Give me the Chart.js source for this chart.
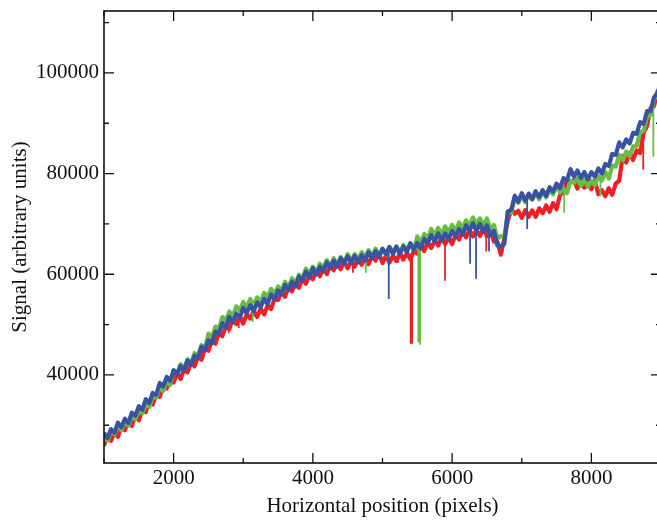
<!DOCTYPE html>
<html>
<head>
<meta charset="utf-8">
<script src="https://cdn.jsdelivr.net/npm/chart.js@4.4.1/dist/chart.umd.min.js"></script>
<style>
  html, body { margin: 0; padding: 0; background: #fff; overflow: hidden; }
  #wrap { width: 657px; height: 520px; overflow: hidden; }
</style>
</head>
<body>
<div id="wrap"><canvas id="c" width="664" height="520"></canvas></div>
<script>
const positions = [1000,1050,1100,1150,1200,1250,1300,1350,1400,1450,1500,1550,1600,1650,1700,1750,1800,1850,1900,1950,
2000,2050,2100,2150,2200,2250,2300,2350,2400,2450,2500,2550,2600,2650,2700,2750,2800,2850,2900,2950,
3000,3050,3100,3150,3200,3250,3300,3350,3400,3450,3500,3550,3600,3650,3700,3750,3800,3850,3900,3950,
4000,4050,4100,4150,4200,4250,4300,4350,4400,4450,4500,4550,4600,4650,4700,4750,4800,4850,4900,4950,
5000,5050,5100,5150,5200,5250,5300,5350,5400,5450,5500,5550,5600,5650,5700,5750,5800,5850,5900,5950,
6000,6050,6100,6150,6200,6250,6300,6350,6400,6450,6500,6550,6600,6650,6700,6750,6800,6850,6900,6950,
7000,7050,7100,7150,7200,7250,7300,7350,7400,7450,7500,7550,7600,7650,7700,7750,7800,7850,7900,7950,
8000,8050,8100,8150,8200,8250,8300,8350,8400,8450,8500,8550,8600,8650,8700,8750,8800,8850,8900,8950,9000];

const blueValues = [28500,27450,29200,28500,30500,29600,31300,30450,32500,31900,33800,33050,35200,34400,36400,36050,38400,37700,39600,38800,
40900,40100,41800,40900,42900,41950,43800,43350,45600,44950,46900,46300,48600,48200,50300,49450,51500,50450,52200,51400,
53300,52250,53800,52650,54400,53500,55100,54100,56000,55000,56800,56000,57900,56900,58500,57550,59500,58750,60500,59400,
61200,59950,61500,60600,62400,61250,62700,61500,63200,62150,63600,62200,63700,62350,63800,62750,64400,63200,64600,63400,
65100,64000,65400,64000,65500,64100,65500,64450,66100,64850,66200,65150,67000,66150,67800,66500,68100,66700,68100,67000,
68600,67500,69000,67900,69700,68650,70100,68600,70000,68450,69700,67800,68600,65700,65500,66000,72500,72800,75600,74400,
76100,74650,76000,74900,76500,75300,76700,75550,77300,76400,78000,77100,79100,78600,80900,79400,80600,79150,80300,78850,
80300,79400,81000,80000,81900,81500,83900,83700,86200,85200,86800,86000,88100,87900,90200,89850,92400,92400,95200,96000,98400];

const greenValues = [27900,26950,28900,28200,30000,29000,30900,29950,31800,31200,33000,32350,34300,33600,35800,35450,37600,36800,38900,38000,
41000,40200,42100,41300,43100,42250,44300,43850,45900,45150,48200,47500,49600,49200,51500,50750,52600,51650,53600,52800,
54500,53350,55100,53850,55400,54500,56300,55400,57100,56200,57600,56800,58500,57400,59200,58150,59900,59150,61100,60100,
61500,60350,62100,61200,62800,61550,63200,61900,63400,62350,64000,62700,64000,62750,64400,63350,64800,63500,65100,63800,
65000,63900,65500,64200,65500,64200,65800,64750,66200,64850,67500,66350,68000,67150,69000,67800,69200,67900,69500,68400,
69800,68600,70300,69100,70700,69650,71300,69900,71100,69650,71100,68800,69800,67100,67600,67500,72300,72300,75300,74200,
75700,74350,75900,74800,76200,74900,76500,75250,76800,75900,77700,76200,77000,76100,78600,78100,79100,77550,78900,77350,
78600,77700,79500,78600,80300,79000,81600,81400,83700,82600,84400,83500,85400,85500,88200,88450,91300,91600,94900,95400,97600];

const redValues = [25900,27850,26900,28600,27700,29700,29000,30850,29900,31900,31000,33050,32600,34800,34100,36150,35600,37800,37300,39200,
38500,40300,39200,41100,40500,42550,41700,43650,43000,45250,44800,46900,46200,48400,47700,49650,49100,51050,50100,51700,
50200,52050,51200,52750,51500,53200,52000,53800,53100,55100,54900,56500,55500,57400,56600,58350,57300,59150,58100,59800,
59000,60750,59600,61100,60000,61750,60800,62300,61000,62550,61200,62600,61500,63150,61900,63250,62000,63700,62700,64200,
62200,63700,62300,63700,62600,64200,62900,64250,63000,64650,64100,65750,64600,66350,65200,66700,65700,67300,66000,67300,
66000,67800,66900,68500,67300,68850,67500,68800,67600,69050,67600,68600,66500,66500,63900,67100,70600,73000,72000,72600,
71200,72750,71400,72700,71400,73100,72100,73650,72400,74100,72900,75800,76200,78700,78300,78700,77000,78450,77200,78450,
76900,78600,75900,76700,75500,77100,75800,78000,78600,83500,82200,84100,82700,84600,84100,88050,89500,93000,93400,96300,95800];

// narrow dips (absorption-like spikes): position, band level, bottom of the dip
const blueDipX = [5090, 6258, 6344, 6530, 7078];
const blueDipTop = [64500, 68800, 69000, 68500, 75500];
const blueDipBottom = [55100, 62100, 59100, 64500, 69000];
const redDipX = [2790, 2935, 4575, 5220, 5405, 5425, 5898, 6490, 8745];
const redDipTop = [50000, 51000, 62000, 63500, 63500, 63500, 66500, 68000, 86000];
const redDipBottom = [48300, 49300, 60300, 62300, 46200, 46200, 58700, 64500, 80800];
const greenDipX = [3136, 4760, 5515, 5540, 7610, 8130, 8890];
const greenDipTop = [54500, 63800, 66000, 66500, 77000, 79000, 94000];
const greenDipBottom = [50500, 60300, 46500, 46000, 72200, 75500, 83400];

const xMajorTicks = [2000, 4000, 6000, 8000];
const xMinorTicks = [1000, 3000, 5000, 7000, 9000];
const yMajorTicks = [40000, 60000, 80000, 100000];
const yMinorTicks = [30000, 50000, 70000, 90000, 110000];

function series(vals) {
  return positions.map((x, i) => ({x: x, y: vals[i]}));
}
function dips(xs, tops, bottoms) {
  const pts = [];
  xs.forEach((x, i) => {
    pts.push({x: x, y: tops[i]}, {x: x, y: bottoms[i]}, {x: x, y: null});
  });
  return pts;
}

const FONT = '"Liberation Serif", "Times New Roman", serif';

const frameTicks = {
  id: 'frameTicks',
  afterDatasetsDraw(chart) {
    const {ctx, chartArea: a, scales} = chart;
    const xs = scales.x, ys = scales.y;
    ctx.save();
    ctx.strokeStyle = '#111';
    ctx.lineWidth = 1.3;
    ctx.beginPath();
    const xt = (vals, len) => vals.forEach(v => {
      const p = xs.getPixelForValue(v);
      ctx.moveTo(p, a.bottom); ctx.lineTo(p, a.bottom - len);
      ctx.moveTo(p, a.top); ctx.lineTo(p, a.top + len);
    });
    const yt = (vals, len) => vals.forEach(v => {
      const p = ys.getPixelForValue(v);
      ctx.moveTo(a.left, p); ctx.lineTo(a.left + len, p);
      ctx.moveTo(a.right, p); ctx.lineTo(a.right - len, p);
    });
    xt(xMajorTicks, 10); xt(xMinorTicks, 5);
    yt(yMajorTicks, 10); yt(yMinorTicks, 5);
    ctx.stroke();
    ctx.lineWidth = 1.6;
    ctx.strokeRect(a.left, a.top, a.right - a.left, a.bottom - a.top);
    ctx.restore();
  }
};

const BLUE = '#3953a4', GREEN = '#69bd45', RED = '#ee1f25';
const bandStyle = {borderWidth: 4.2, pointRadius: 0, tension: 0, borderJoinStyle: 'round'};
const dipStyle = {borderWidth: 1.8, pointRadius: 0, tension: 0, spanGaps: false};

new Chart(document.getElementById('c'), {
  type: 'line',
  data: {
    datasets: [
      Object.assign({label: 'Blue dips', data: dips(blueDipX, blueDipTop, blueDipBottom), borderColor: BLUE}, dipStyle),
      Object.assign({label: 'Blue', data: series(blueValues), borderColor: BLUE}, bandStyle),
      Object.assign({label: 'Green dips', data: dips(greenDipX, greenDipTop, greenDipBottom), borderColor: GREEN}, dipStyle),
      Object.assign({label: 'Green', data: series(greenValues), borderColor: GREEN}, bandStyle),
      Object.assign({label: 'Red dips', data: dips(redDipX, redDipTop, redDipBottom), borderColor: RED}, dipStyle),
      Object.assign({label: 'Red', data: series(redValues), borderColor: RED}, bandStyle)
    ]
  },
  options: {
    responsive: false,
    animation: false,
    layout: {padding: {top: 11, right: 3, left: 0, bottom: 0}},
    plugins: {legend: {display: false}, tooltip: {enabled: false}},
    scales: {
      x: {
        type: 'linear', min: 1000, max: 9000,
        grid: {display: false, drawTicks: false},
        border: {display: false},
        afterBuildTicks: s => { s.ticks = xMajorTicks.map(v => ({value: v})); },
        afterFit: s => { s.height = 57; s.paddingLeft = 0; s.paddingRight = 0; },
        ticks: {font: {family: FONT, size: 21}, color: '#111', padding: 3, maxRotation: 0, autoSkip: false, callback: v => String(v)},
        title: {display: true, text: 'Horizontal position (pixels)', font: {family: FONT, size: 21}, color: '#111', padding: {top: 0, bottom: 1}}
      },
      y: {
        type: 'linear', min: 22500, max: 112300,
        grid: {display: false, drawTicks: false},
        border: {display: false},
        afterBuildTicks: s => { s.ticks = yMajorTicks.map(v => ({value: v})); },
        afterFit: s => { s.width = 104; s.paddingTop = 0; s.paddingBottom = 0; },
        ticks: {font: {family: FONT, size: 21}, color: '#111', padding: 5, autoSkip: false, callback: v => String(v)},
        title: {display: true, text: 'Signal (arbitrary units)', font: {family: FONT, size: 21}, color: '#111', padding: {top: 8, bottom: 0}}
      }
    }
  },
  plugins: [frameTicks]
});
</script>
</body>
</html>
